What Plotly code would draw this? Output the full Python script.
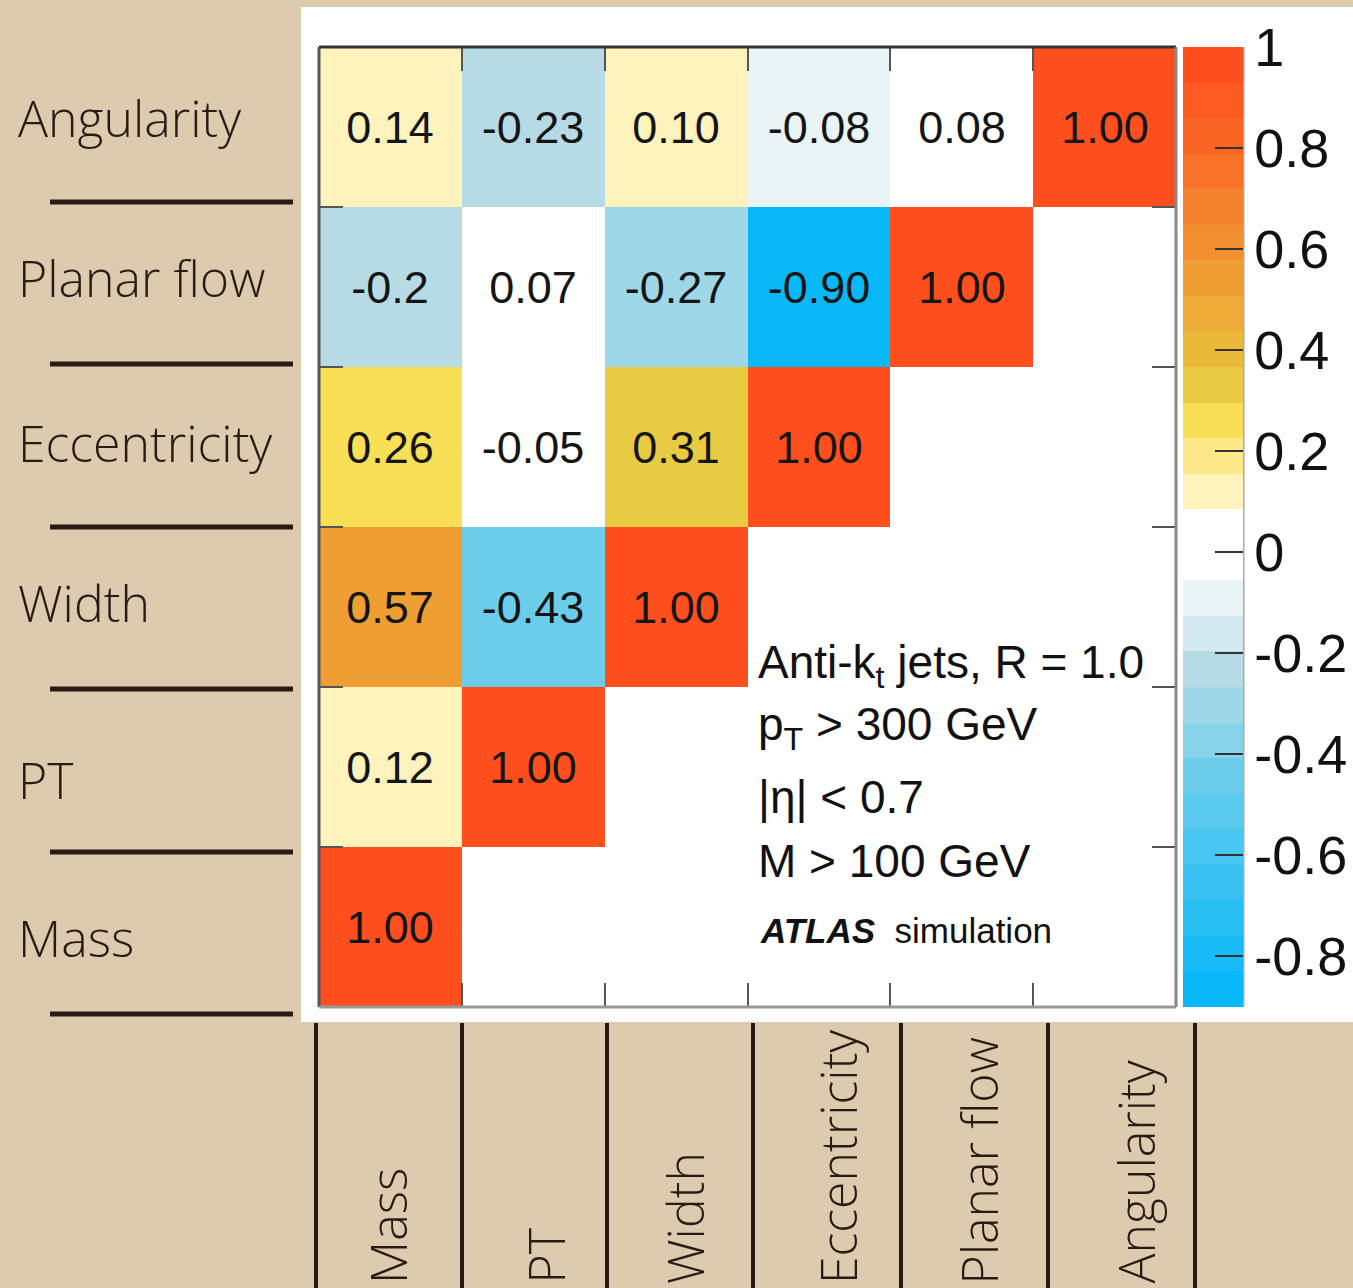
import plotly.graph_objects as go

# Jet substructure variables (x: left to right, y: bottom to top)
variables = ["Mass", "PT", "Width", "Eccentricity", "Planar flow", "Angularity"]

# Correlation coefficients per row (lower triangle, as printed in the cells)
corr_mass = ["1.00"]
corr_pt = ["0.12", "1.00"]
corr_width = ["0.57", "-0.43", "1.00"]
corr_eccentricity = ["0.26", "-0.05", "0.31", "1.00"]
corr_planar_flow = ["-0.2", "0.07", "-0.27", "-0.90", "1.00"]
corr_angularity = ["0.14", "-0.23", "0.10", "-0.08", "0.08", "1.00"]

rows = [corr_mass, corr_pt, corr_width, corr_eccentricity, corr_planar_flow, corr_angularity]

# Colour bar ticks
cbar_tickvals = [-0.8, -0.6, -0.4, -0.2, 0, 0.2, 0.4, 0.6, 0.8, 1.0]
cbar_ticktext = ["-0.8", "-0.6", "-0.4", "-0.2", "0", "0.2", "0.4", "0.6", "0.8", "1"]

# Cut-flow description
info_lines = [
    "Anti-k<sub>t</sub> jets, R = 1.0",
    "p<sub>T</sub> &gt; 300 GeV",
    "|η| &lt; 0.7",
    "M &gt; 100 GeV",
]
info_footer = "<b><i>ATLAS</i></b>  simulation"

# ---------------------------------------------------------------------------
W, H = 1353, 1288
ZMIN, ZMAX = -0.9, 1.0


def px(x):
    return x / W


def py(y):
    return 1 - y / H


# Stepped palette: 27 equal bands from ZMIN to ZMAX (bottom to top)
band_colors = [
    "#08B8F7", "#18BBF5", "#28BFF3", "#39C2F1", "#48C6F0", "#5ACAEE",
    "#6BCDEA", "#86D3EA", "#9ED7E8", "#B7DBE5", "#D3E9EF", "#EAF4F7",
    "#FFFFFF", "#FFFFFF",
    "#FFF3BD", "#FCEA8A", "#F9DF55", "#E8CB42", "#EAB93A", "#ECAC37",
    "#EF9E34", "#F28F30", "#F5832D", "#F77329", "#FA6524", "#FD5B22",
    "#FF4F1F",
]
n = len(band_colors)
colorscale = []
for i, c in enumerate(band_colors):
    colorscale.append([i / n, c])
    colorscale.append([(i + 1) / n, c])

z, text = [], []
for r in rows:
    vals = [float(s) for s in r] + [None] * (len(variables) - len(r))
    labs = list(r) + [""] * (len(variables) - len(r))
    z.append(vals)
    text.append(labs)

BROWN = "#2B1A14"
LABEL_FONT = dict(family="Open Sans", size=50, color=BROWN, weight=300)

fig = go.Figure(
    go.Heatmap(
        x=variables,
        y=variables,
        z=z,
        text=text,
        texttemplate="%{text}",
        textfont=dict(family="Liberation Sans", size=45, color="#151515"),
        colorscale=colorscale,
        zmin=ZMIN,
        zmax=ZMAX,
        xgap=0,
        ygap=0,
        hoverongaps=False,
        colorbar=dict(
            x=px(1183), xanchor="left", xpad=0,
            y=py(527), yanchor="middle", ypad=0,
            len=960, lenmode="pixels",
            thickness=60, thicknessmode="pixels",
            outlinewidth=0,
            tickvals=cbar_tickvals,
            ticktext=cbar_ticktext,
            ticks="inside", ticklen=28, tickwidth=2, tickcolor="#333333",
            tickfont=dict(family="Liberation Sans", size=54, color="#111111"),
        ),
    )
)

axis_common = dict(
    type="category",
    showticklabels=False,
    showgrid=False,
    zeroline=False,
    showline=False,
    ticks="inside",
    tickson="boundaries",
    ticklen=24,
    tickwidth=2,
    tickcolor="#555555",
    mirror="ticks",
    range=[-0.5, 5.5],
    fixedrange=True,
)

fig.update_layout(
    width=W,
    height=H,
    margin=dict(l=0, r=0, t=0, b=0, autoexpand=False),
    paper_bgcolor="#DDCBAF",
    plot_bgcolor="#FFFFFF",
    xaxis=dict(domain=[px(319), px(1176)], **axis_common),
    yaxis=dict(domain=[py(1007), py(47)], **axis_common),
    showlegend=False,
)

shapes = []
# white panel behind the plot and colour bar
shapes.append(dict(type="rect", xref="paper", yref="paper",
                   x0=px(301), x1=1.0, y0=py(1022), y1=py(7),
                   fillcolor="#FFFFFF", line=dict(width=0), layer="below"))

# plot frame
frame = [
    (319, 47, 1176, 47, "#333333"),
    (319, 47, 319, 1007, "#555555"),
    (319, 1007, 1176, 1007, "#999999"),
    (1176, 47, 1176, 1007, "#888888"),
    (1243, 47, 1243, 1007, "#AAAAAA"),
]
for x0, y0, x1, y1, col in frame:
    shapes.append(dict(type="line", xref="paper", yref="paper",
                       x0=px(x0), y0=py(y0), x1=px(x1), y1=py(y1),
                       line=dict(color=col, width=3), layer="above"))

# separator rules under the row labels
for yy in [202, 364, 527, 689, 852, 1014]:
    shapes.append(dict(type="line", xref="paper", yref="paper",
                       x0=px(50), x1=px(293), y0=py(yy), y1=py(yy),
                       line=dict(color=BROWN, width=5)))

# column dividers under the plot
for xx in [316, 462, 607, 753, 901, 1048, 1195]:
    shapes.append(dict(type="line", xref="paper", yref="paper",
                       x0=px(xx), x1=px(xx), y0=py(1023), y1=0,
                       line=dict(color=BROWN, width=4)))

fig.update_layout(shapes=shapes)

annotations = []
# row labels on the left
row_label_y = {"Angularity": 118, "Planar flow": 278, "Eccentricity": 443,
               "Width": 603, "PT": 780, "Mass": 938}
for name in variables:
    annotations.append(dict(text=name, xref="paper", yref="paper",
                            x=px(16), y=py(row_label_y[name]),
                            xanchor="left", yanchor="middle",
                            showarrow=False, font=LABEL_FONT))

# rotated column labels underneath
col_label_x = {"Mass": 388, "PT": 545, "Width": 685, "Eccentricity": 838,
               "Planar flow": 978, "Angularity": 1135}
for name in variables:
    annotations.append(dict(text=name, xref="paper", yref="paper",
                            x=px(col_label_x[name]), y=py(1286),
                            xanchor="center", yanchor="bottom", textangle=-90,
                            showarrow=False, font=LABEL_FONT))

# selection text inside the plot
for line, yy in zip(info_lines, [666, 727, 797, 861]):
    annotations.append(dict(text=line, xref="paper", yref="paper",
                            x=px(756), y=py(yy), xanchor="left", yanchor="middle",
                            showarrow=False,
                            font=dict(family="Liberation Sans", size=46, color="#111111")))
annotations.append(dict(text=info_footer, xref="paper", yref="paper",
                        x=px(758), y=py(930), xanchor="left", yanchor="middle",
                        showarrow=False,
                        font=dict(family="Liberation Sans", size=35, color="#111111")))

fig.update_layout(annotations=annotations)

fig.write_html("out.html")
